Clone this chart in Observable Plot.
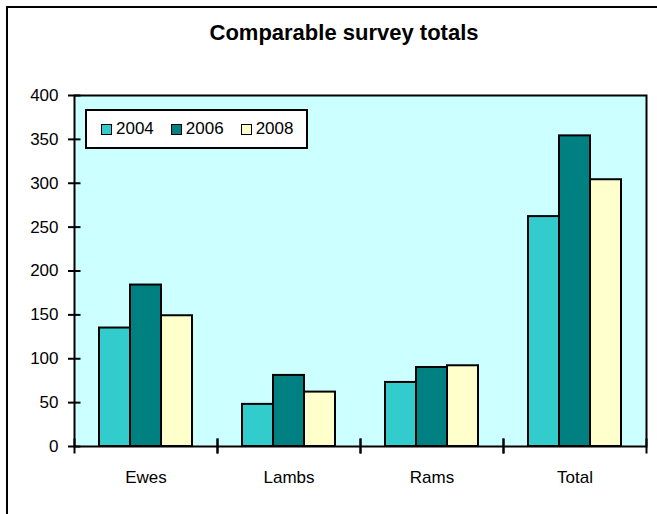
<!DOCTYPE html>
<html>
<head>
<meta charset="utf-8">
<script src="https://cdn.jsdelivr.net/npm/d3@7"></script>
<script src="https://cdn.jsdelivr.net/npm/@observablehq/plot@0.6"></script>
<style>
  html, body { margin: 0; padding: 0; background: #fff; overflow: hidden; }
  #wrap { position: relative; width: 657px; height: 514px; overflow: hidden; font-family: "Liberation Sans", Arial, sans-serif; }
  #outer { position: absolute; left: 6px; top: 6px; width: 800px; height: 800px; border-left: 2px solid #000; border-top: 2px solid #000; pointer-events: none; }
  #title { position: absolute; left: 0; top: 22px; width: 688px; text-align: center; font-weight: bold; font-size: 22px; line-height: 22px; color: #000; }
  #legend { position: absolute; left: 85px; top: 109px; width: 223px; height: 40px; box-sizing: border-box; border: 2px solid #000; background: #fff; display: flex; align-items: center; padding-left: 14px; gap: 17px; font-size: 17px; color: #000; }
  .item { display: flex; align-items: center; gap: 4px; }
  .sw { width: 11px; height: 11px; box-sizing: border-box; border: 1.5px solid #000; }
  svg { position: absolute; left: 0; top: 0; }
</style>
</head>
<body>
<div id="wrap"></div>
<script>
const categories = ["Ewes", "Lambs", "Rams", "Total"];
const years = ["2004", "2006", "2008"];
const values2004 = [135, 48, 73, 262];
const values2006 = [184, 81, 90, 354];
const values2008 = [149, 62, 92, 304];
const yTicks = [0, 50, 100, 150, 200, 250, 300, 350, 400];
const colors = ["#33CCCC", "#008080", "#FFFFCC"];
const titleText = "Comparable survey totals";

const series = [values2004, values2006, values2008];
const data = [];
categories.forEach((c, i) => years.forEach((y, j) => data.push({category: c, year: y, value: series[j][i]})));

const W = 657, H = 514;
const mL = 73, mR = 10, mT = 95, mB = 68;
const facetW = (W - mL - mR) / categories.length;
const plotH = H - mT - mB;

const chart = Plot.plot({
  width: W,
  height: H,
  marginLeft: mL,
  marginRight: mR,
  marginTop: mT,
  marginBottom: mB,
  style: {fontFamily: "'Liberation Sans', Arial, sans-serif", fontSize: "17px", color: "#000", background: "transparent"},
  fx: {domain: categories, padding: 0},
  x: {domain: years, paddingInner: 0, paddingOuter: 0.75, axis: null},
  y: {domain: [0, 400]},
  color: {domain: years, range: colors},
  marks: [
    Plot.frame({facet: "super", fill: "#CCFFFF", stroke: "none"}),
    Plot.barY(data, {fx: "category", x: "year", y: "value", fill: "year", stroke: "#000", strokeWidth: 2}),
    Plot.frame({facet: "super", fill: "none", stroke: "#000", strokeWidth: 2}),
    Plot.frame({anchor: "left", stroke: "#000", strokeWidth: 2, insetTop: plotH - 7, insetBottom: -6}),
    Plot.frame({anchor: "right", stroke: "#000", strokeWidth: 2, insetTop: plotH - 7, insetBottom: -6}),
    Plot.tickY(yTicks, {y: d => d, fx: () => categories[0], stroke: "#000", strokeWidth: 2, insetLeft: -6, insetRight: facetW - 7}),
    Plot.axisY({ticks: yTicks, tickSize: 0, tickPadding: 16, label: null, fontSize: 17}),
    Plot.axisFx({anchor: "bottom", tickSize: 0, tickPadding: 24, label: null, fontSize: 17})
  ]
});

const wrap = document.getElementById("wrap");
wrap.appendChild(chart);

const title = document.createElement("div");
title.id = "title";
title.textContent = titleText;
wrap.appendChild(title);

const legend = document.createElement("div");
legend.id = "legend";
years.forEach((y, j) => {
  const item = document.createElement("div");
  item.className = "item";
  const sw = document.createElement("div");
  sw.className = "sw";
  sw.style.background = colors[j];
  const t = document.createElement("span");
  t.textContent = y;
  item.appendChild(sw);
  item.appendChild(t);
  legend.appendChild(item);
});
wrap.appendChild(legend);

const outer = document.createElement("div");
outer.id = "outer";
wrap.appendChild(outer);
</script>
</body>
</html>
